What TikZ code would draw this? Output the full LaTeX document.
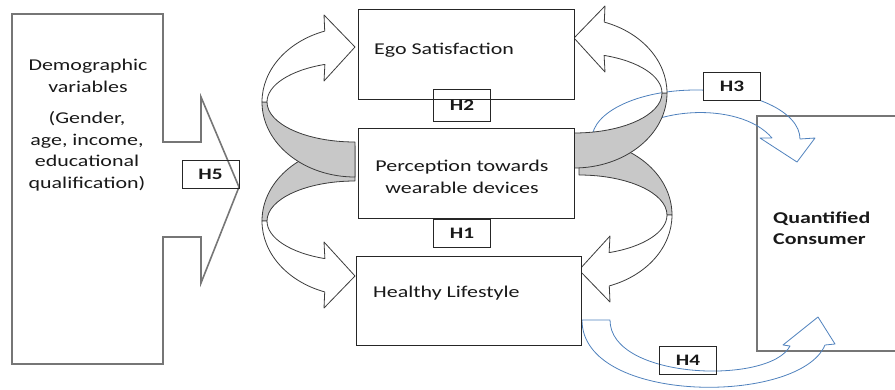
\documentclass[tikz,border=0pt]{standalone}
\usepackage{fontspec}
\setmainfont{Carlito}[FakeStretch=1.33]
\usetikzlibrary{calc}

\definecolor{ribbongray}{RGB}{200,200,200}
\definecolor{ribbonline}{RGB}{60,60,60}
\definecolor{hypblue}{RGB}{79,129,189}
\definecolor{framegray}{RGB}{118,118,118}

\begin{document}
\begin{tikzpicture}[
  x=1pt, y=-1pt,
  box/.style={draw=black!85, line width=0.9pt, fill=white, inner sep=0pt},
  hbox/.style={draw=black!85, line width=0.9pt, minimum width=57pt, minimum height=28pt,
               inner sep=0pt, text=black!90, font=\fontsize{16}{18}\selectfont\bfseries},
  frame/.style={draw=framegray, line width=1.6pt, line join=miter},
  txt/.style={inner sep=0pt, text=black!90, font=\fontsize{16.5}{21.5}\selectfont},
  twistback/.style={fill=ribbongray, draw=ribbonline, line width=0.8pt, line join=round},
  twistfront/.style={fill=white, draw=ribbonline, line width=0.8pt, line join=round},
  hyp/.style={draw=hypblue, line width=0.8pt, line join=round},
]

\clip (0,0) rectangle (895,389);

% ------------------------------------------------------------------
% left block with its arrow
% ------------------------------------------------------------------
\draw[frame] (12,14) -- (163,14) -- (163,142) -- (201,142) -- (201,97) -- (239,187)
   -- (201,283) -- (201,237) -- (163,237) -- (163,364) -- (12,364) -- cycle;
% base of a two-line node is the last line's baseline
\node[txt, align=center, anchor=base] (demo) at (88,92) {Demographic\\variables};
\node[txt, align=center, anchor=base] (demolist) at (87,188)
     {(Gender,\\age, income,\\educational\\qualification)};

% ------------------------------------------------------------------
% right block and the two blue arrows into it
% ------------------------------------------------------------------
\draw[frame, line width=2pt] (757,116) rectangle (905,351);
\node[txt, anchor=base west, font=\fontsize{16.5}{21.5}\selectfont\bfseries] (quant) at (773,223) {Quantified};
\node[txt, anchor=base west, font=\fontsize{16.5}{21.5}\selectfont\bfseries] (quant2) at (773,244) {Consumer};

% H3: over the top
\draw[hyp] (592,139) arc[start angle=180, end angle=360, x radius=104, y radius=49]
   -- (815,138) -- (797,162) -- (760,138) -- (772,138)
   .. controls (740,100) and (640,105) .. (612,150) -- cycle;
% H4: under the bottom
\draw[hyp] (582,320) .. controls (582,405) and (800,405) .. (825,345)
   -- (835,344) -- (818,317) -- (783,345) -- (790,346)
   .. controls (770,385) and (610,380) .. (610,320) -- cycle;

% ------------------------------------------------------------------
% twisted ribbon arrows round the middle block
% ------------------------------------------------------------------
\def\twist{%
  % shaded back of the ribbon
  \filldraw[twistback] (0,75) arc[start angle=90, end angle=180, x radius=93, y radius=75]
     -- (-88,0) arc[start angle=180, end angle=90, x radius=88, y radius=40] -- cycle;
  % front of the ribbon with its head
  \filldraw[twistfront] (-93,0) arc[start angle=180, end angle=251, x radius=93, y radius=75]
     -- (-31,-87) -- (0,-55) -- (-31,-21) -- (-30.1,-37.6)
     arc[start angle=250, end angle=180, x radius=88, y radius=40] -- cycle;
}
% lower ones first, the upper ones lie over their tails
\begin{scope}[shift={(355,221)}, yscale=-1] \twist \end{scope}
\begin{scope}[shift={(579,215)}, xscale=-1, yscale=-1] \twist \end{scope}
\begin{scope}[shift={(355,102)}] \twist \end{scope}
\begin{scope}[shift={(574,93)}, xscale=-1] \twist \end{scope}

% ------------------------------------------------------------------
% middle blocks
% ------------------------------------------------------------------
\node[box, minimum width=216pt, minimum height=90pt] (ego) at (466,54) {};
\node[box, minimum width=216pt, minimum height=90pt] (perc) at (466,173) {};
\node[box, minimum width=225pt, minimum height=89pt] (healthy) at (468.5,300.5) {};

\node[txt, anchor=base west] (egotext) at (374,54) {Ego Satisfaction};
\node[txt, align=center, anchor=base] (perctext) at (462,193) {Perception towards\\wearable devices};
\node[txt, anchor=base west] (healthytext) at (373,297) {Healthy Lifestyle};

% hypothesis labels
\node[hbox] (h5) at (210.5,174) {H5};
\node[hbox, minimum height=32pt] (h2) at (462,105) {H2};
\node[hbox] (h1) at (462,233) {H1};
\node[hbox, fill=white] (h3) at (732,86) {H3};
\node[hbox] (h4) at (688,360) {H4};
\end{tikzpicture}
\end{document}
